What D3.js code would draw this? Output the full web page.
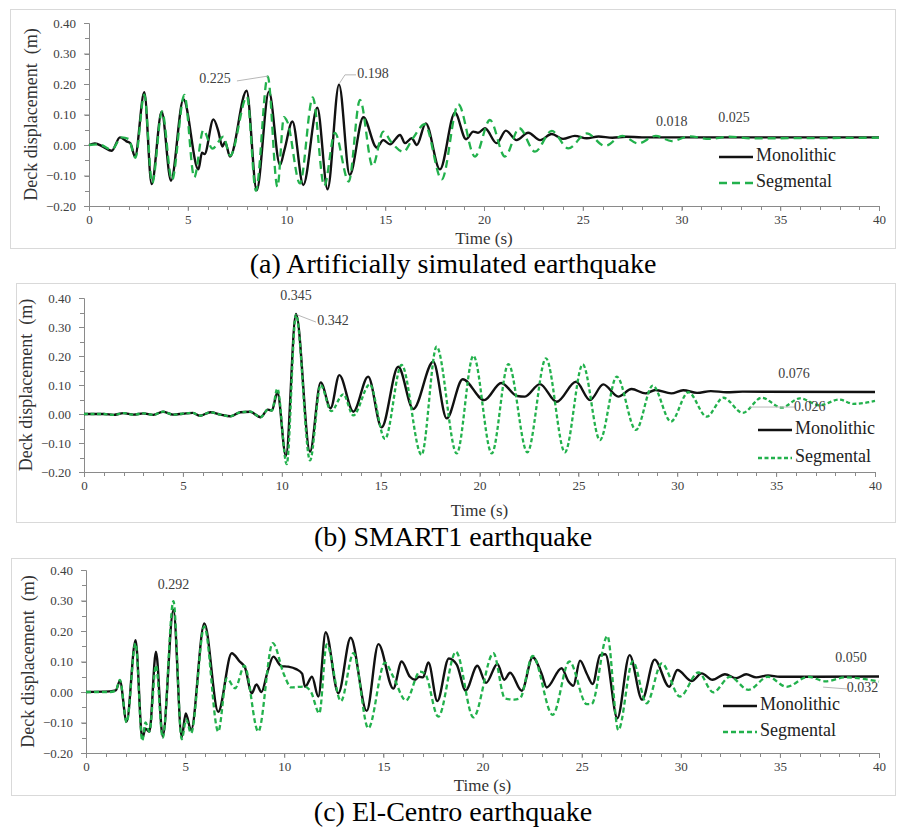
<!DOCTYPE html>
<html><head><meta charset="utf-8">
<script src="https://cdn.jsdelivr.net/npm/d3@7"></script>
<style>body{margin:0;background:#fff}svg{display:block}text{font-family:"Liberation Serif","Times New Roman",Times,serif}</style>
</head><body>
<svg id="chart" width="897" height="828"></svg>
<script>
// ---------- data ----------
const xTicks = [0, 5, 10, 15, 20, 25, 30, 35, 40];
const yTicks = [-0.2, -0.1, 0, 0.1, 0.2, 0.3, 0.4];
const seriesNames = ["Monolithic", "Segmental"];
const captions = ["(a) Artificially simulated earthquake", "(b) SMART1 earthquake", "(c) El-Centro earthquake"];
const yTitle = "Deck displacement  (m)";
const xTitle = "Time (s)";

// (a) Artificially simulated earthquake  [time s, displacement m]
const aMono = [[0,0],[0.3,0.005],[0.7,-0.005],[1.15,-0.019],[1.57,0.025],[1.9,0.012],[2.1,0.005],[2.33,-0.038],[2.8,0.173],[3.17,-0.128],[3.68,0.109],[4.15,-0.117],[4.78,0.15],[5.54,-0.08],[5.72,-0.025],[5.85,-0.03],[6.3,0.084],[6.55,0.045],[6.75,-0.005],[6.89,0.01],[7.14,-0.038],[7.98,0.178],[8.49,-0.148],[9.11,0.175],[9.67,-0.066],[9.9,-0.015],[10.3,0.077],[10.85,-0.131],[11.56,0.122],[12.08,-0.145],[12.66,0.198],[13.2,-0.098],[13.89,0.091],[14.57,-0.008],[14.9,0.016],[15.24,0.002],[15.75,0.033],[16.0,0.006],[16.34,0.022],[16.6,0.0],[17.05,0.071],[17.77,-0.08],[18.53,0.106],[19.09,0.019],[19.46,0.044],[19.7,0.04],[20.05,0.055],[20.64,0.006],[21.11,0.047],[21.65,0.016],[22.24,0.04],[22.84,0.016],[23.43,0.036],[24.0,0.02],[24.6,0.03],[25.2,0.022],[25.8,0.028],[26.5,0.024],[27.2,0.027],[28,0.025],[40,0.025]];
const aSeg = [[0,0],[0.5,0.002],[1.15,-0.015],[1.65,0.025],[2.0,0.02],[2.35,-0.042],[2.8,0.165],[3.2,-0.125],[3.7,0.11],[4.2,-0.115],[4.83,0.164],[5.33,-0.106],[5.79,0.049],[6.25,-0.012],[6.8,0.027],[7.15,-0.035],[8.0,0.158],[8.45,-0.15],[9.05,0.225],[9.54,-0.137],[9.87,0.091],[10.05,0.075],[10.68,-0.126],[11.33,0.156],[11.91,-0.134],[12.45,0.04],[13.15,-0.12],[13.72,0.148],[14.36,-0.069],[14.9,0.044],[15.3,0.01],[15.92,-0.022],[16.4,0.022],[17.0,0.068],[17.86,-0.113],[18.7,0.133],[19.54,-0.038],[20.3,0.082],[21.06,-0.038],[21.79,0.055],[22.58,-0.022],[23.43,0.046],[24.27,-0.011],[25.2,0.038],[26.13,-0.003],[27.0,0.03],[27.8,0.005],[28.7,0.03],[29.5,0.013],[30.4,0.028],[31.4,0.02],[32.4,0.027],[33.5,0.022],[40,0.024]];

// (b) SMART1 earthquake
const bMono = [[0,0],[1,0],[1.5,-0.003],[2,0.003],[2.5,-0.002],[3,0.002],[3.5,-0.003],[4,0.008],[4.5,-0.002],[5,0.001],[5.5,0.004],[5.85,-0.006],[6.4,0.006],[6.9,-0.002],[7.4,-0.008],[7.9,0.006],[8.4,0.008],[8.93,-0.011],[9.3,0.015],[9.5,0.012],[9.78,0.074],[10.21,-0.144],[10.72,0.345],[11.43,-0.13],[11.97,0.109],[12.47,0.02],[12.91,0.134],[13.62,0.008],[14.37,0.129],[15.05,-0.046],[15.89,0.163],[16.65,0.017],[17.66,0.18],[18.34,-0.015],[19.15,0.12],[20.24,0.048],[21.1,0.107],[21.9,0.062],[22.3,0.06],[23.05,0.103],[23.9,0.042],[24.88,0.111],[25.59,0.048],[26.26,0.102],[27.02,0.06],[27.69,0.086],[28.4,0.071],[28.9,0.083],[29.7,0.071],[30.3,0.082],[31.0,0.073],[31.7,0.079],[32.5,0.075],[33.3,0.077],[40,0.076]];
const bSeg = [[0,0],[1,0],[1.5,-0.003],[2,0.003],[2.5,-0.002],[3,0.002],[3.5,-0.003],[4,0.008],[4.5,-0.002],[5,0.001],[5.5,0.004],[5.85,-0.006],[6.4,0.006],[6.9,-0.002],[7.4,-0.008],[7.9,0.006],[8.4,0.008],[8.93,-0.011],[9.3,0.015],[9.5,0.012],[9.78,0.087],[10.25,-0.173],[10.72,0.342],[11.43,-0.16],[11.97,0.1],[12.5,0.01],[13.11,0.068],[13.62,-0.005],[14.45,0.102],[15.22,-0.086],[16.06,0.169],[17.07,-0.141],[17.83,0.232],[18.85,-0.136],[19.69,0.201],[20.62,-0.136],[21.46,0.172],[22.42,-0.132],[23.36,0.192],[24.32,-0.132],[25.22,0.171],[26.09,-0.09],[26.94,0.129],[27.91,-0.055],[28.76,0.098],[29.68,-0.026],[30.56,0.075],[31.49,-0.009],[32.33,0.056],[33.31,0.004],[34.27,0.056],[35.28,0.022],[36.2,0.054],[37.2,0.03],[38.2,0.05],[38.9,0.035],[40,0.045]];

// (c) El-Centro earthquake
const cMono = [[0,0],[1.2,0.002],[1.5,0.005],[1.71,0.036],[2.05,-0.097],[2.5,0.17],[2.84,-0.152],[3.0,-0.12],[3.2,-0.13],[3.53,0.132],[3.87,-0.146],[4.41,0.269],[4.83,-0.148],[5.03,-0.07],[5.3,-0.125],[5.97,0.225],[6.67,-0.065],[7.35,0.127],[7.75,0.1],[8.02,0.08],[8.36,-0.004],[8.6,0.025],[8.85,0.0],[9.16,0.067],[9.45,0.116],[9.85,0.085],[10.2,0.083],[10.6,0.075],[10.9,0.06],[11.05,0.017],[11.4,0.05],[11.72,-0.015],[12.09,0.196],[12.73,-0.004],[13.35,0.178],[14.16,-0.062],[14.75,0.157],[15.5,0.011],[15.92,0.1],[16.34,0.05],[16.6,0.04],[16.8,0.05],[17.0,0.048],[17.27,0.097],[17.72,-0.03],[18.3,0.11],[18.7,0.09],[19.15,0.005],[19.74,0.086],[20.18,0.03],[20.75,0.092],[21.1,0.04],[21.39,0.063],[21.98,0.004],[22.53,0.114],[22.98,0.06],[23.24,0.015],[23.99,0.078],[24.33,0.035],[24.58,0.02],[24.92,0.103],[25.26,0.06],[25.56,0.026],[25.93,0.121],[26.2,0.124],[26.8,-0.086],[27.42,0.121],[28.05,-0.025],[28.68,0.106],[29.42,0.017],[29.83,0.072],[30.55,0.036],[31.06,0.061],[31.6,0.04],[32.23,0.058],[32.8,0.045],[33.3,0.058],[33.8,0.048],[34.4,0.054],[35,0.05],[40,0.051]];
const cSeg = [[0,0],[1.2,0],[1.5,0.004],[1.71,0.04],[2.05,-0.1],[2.5,0.16],[2.84,-0.16],[3.0,-0.1],[3.2,-0.13],[3.53,0.088],[3.87,-0.15],[4.41,0.298],[4.83,-0.155],[5.05,-0.09],[5.3,-0.135],[5.97,0.215],[6.67,-0.13],[7.1,0.045],[7.52,0.012],[7.99,0.086],[8.69,-0.13],[9.42,0.16],[10.0,0.055],[10.35,0.015],[11.0,0.018],[11.35,0.0],[11.77,-0.07],[12.14,0.156],[12.86,-0.03],[13.49,0.127],[14.24,-0.119],[15.08,0.096],[15.5,0.05],[16.14,-0.028],[16.85,0.067],[17.1,0.06],[17.77,-0.081],[18.66,0.132],[19.54,-0.083],[20.55,0.127],[21.13,-0.021],[21.6,-0.025],[21.9,-0.02],[22.53,0.118],[23.54,-0.075],[24.38,0.1],[25.26,-0.04],[25.5,-0.04],[26.3,0.184],[26.85,-0.125],[27.58,0.1],[28.28,-0.037],[29.04,0.094],[29.96,-0.015],[30.89,0.064],[31.64,-0.001],[32.48,0.05],[33.41,0.007],[34.4,0.05],[35.34,0.017],[36.43,0.05],[37.3,0.035],[38.3,0.048],[40,0.034]];

// annotations: label text and anchor in data units [t, v]
const aNotes = [{text:"0.225",t:6.38,v:0.213},{text:"0.198",t:14.38,v:0.23},{text:"0.018",t:29.5,v:0.072},{text:"0.025",t:32.66,v:0.085}];
const bNotes = [{text:"0.345",t:10.72,v:0.403},{text:"0.342",t:12.59,v:0.317},{text:"0.076",t:35.9,v:0.134},{text:"0.026",t:36.7,v:0.021}];
const cNotes = [{text:"0.292",t:4.41,v:0.348},{text:"0.050",t:38.59,v:0.108},{text:"0.032",t:39.17,v:0.01}];
const aLeaders = [[[7.49,0.21],[9.06,0.226]],[[12.66,0.2],[12.96,0.23],[13.52,0.23]]];
const bLeaders = [[[10.82,0.341],[11.73,0.317]],[[33.68,0.024],[35.95,0.024]]];
const cLeaders = [[[37.18,0.016],[38.39,0.01]]];

// ---------- layout ----------
const panels = [
  {mono:aMono, seg:aSeg, notes:aNotes, leaders:aLeaders, frame:[10,9,885,239], x0:89, x1:879, yT:23, yB:206, tOff:34, cap:267, leg:[719,157,183], dash:"8,5"},
  {mono:bMono, seg:bSeg, notes:bNotes, leaders:bLeaders, frame:[16,283,879,239], x0:84, x1:875, yT:298, yB:472, tOff:40, cap:540, leg:[758,430,458], dash:"4,2.5"},
  {mono:cMono, seg:cSeg, notes:cNotes, leaders:cLeaders, frame:[11,558,884,237], x0:86, x1:879, yT:570, yB:753, tOff:34, cap:815, leg:[723,706,732], dash:"5,3"}
];
const GREEN = "#22b14c", AX = "#8a8a8a", TXT = "#404040";
const FONT = '"Liberation Serif","Times New Roman",Times,serif';
const svg = d3.select("#chart");

panels.forEach((p, i) => {
  const g = svg.append("g");
  g.append("rect").attr("x",p.frame[0]+0.5).attr("y",p.frame[1]+0.5).attr("width",p.frame[2]).attr("height",p.frame[3])
    .attr("fill","none").attr("stroke","#d9d9d9").attr("stroke-width",1);
  const x = d3.scaleLinear().domain([0,40]).range([p.x0,p.x1]);
  const y = d3.scaleLinear().domain([-0.2,0.4]).range([p.yB,p.yT]);

  // minor ticks
  const ax = g.append("g").attr("stroke",AX).attr("stroke-width",1);
  d3.range(0,41,1).forEach(t => ax.append("line").attr("x1",Math.round(x(t))+0.5).attr("x2",Math.round(x(t))+0.5).attr("y1",p.yB).attr("y2",p.yB+4));
  d3.range(-0.2,0.401,0.05).forEach(v => ax.append("line").attr("y1",Math.round(y(v))+0.5).attr("y2",Math.round(y(v))+0.5).attr("x1",p.x0-4).attr("x2",p.x0));
  // axes
  const xa = g.append("g").attr("transform",`translate(0,${p.yB})`).call(d3.axisBottom(x).tickValues(xTicks).tickSize(5).tickPadding(4).tickFormat(d3.format("d")));
  const ya = g.append("g").attr("transform",`translate(${p.x0},0)`).call(d3.axisLeft(y).tickValues(yTicks).tickSize(5).tickPadding(8).tickFormat(d3.format(".2f")));
  [xa,ya].forEach(a => {
    a.attr("font-family",FONT);
    a.select(".domain").attr("stroke",AX);
    a.selectAll(".tick line").attr("stroke",AX);
    a.selectAll("text").attr("fill",TXT).style("font-size","13px");
  });

  // titles
  g.append("text").attr("transform",`translate(${p.x0-56},${(p.yT+p.yB)/2}) rotate(-90)`).attr("text-anchor","middle")
    .attr("dominant-baseline","middle").attr("fill","#333").style("font-size","18px").style("white-space","pre").text(yTitle);
  g.append("text").attr("x",x(20)).attr("y",p.yB+p.tOff).attr("text-anchor","middle").attr("dominant-baseline","middle")
    .attr("fill","#333").style("font-size","17px").text(xTitle);
  g.append("text").attr("x",453).attr("y",p.cap).attr("text-anchor","middle").attr("dominant-baseline","middle")
    .attr("fill","#000").style("font-size","28px").text(captions[i]);

  // lines
  const line = d3.line().x(d=>x(d[0])).y(d=>y(d[1])).curve(d3.curveMonotoneX);
  g.append("path").datum(p.mono).attr("d",line).attr("fill","none").attr("stroke","#111").attr("stroke-width",2.4).attr("stroke-linejoin","round");
  g.append("path").datum(p.seg).attr("d",line).attr("fill","none").attr("stroke",GREEN).attr("stroke-width",2.3).attr("stroke-dasharray",p.dash);

  // leaders & notes
  const lf = d3.line().x(d=>x(d[0])).y(d=>y(d[1]));
  p.leaders.forEach(L => g.append("path").attr("d",lf(L)).attr("fill","none").attr("stroke","#b8b8b8").attr("stroke-width",1));
  p.notes.forEach(n => g.append("text").attr("x",x(n.t)).attr("y",y(n.v)).attr("text-anchor","middle").attr("dominant-baseline","middle")
    .attr("fill",TXT).style("font-size","14px").text(n.text));

  // legend
  const [lx, ly1, ly2] = p.leg;
  g.append("line").attr("x1",lx).attr("x2",lx+34).attr("y1",ly1).attr("y2",ly1).attr("stroke","#111").attr("stroke-width",2.4);
  g.append("line").attr("x1",lx).attr("x2",lx+34).attr("y1",ly2).attr("y2",ly2).attr("stroke",GREEN).attr("stroke-width",2.3).attr("stroke-dasharray",p.dash);
  g.append("text").attr("x",lx+37).attr("y",ly1).attr("dominant-baseline","middle").attr("fill","#222").style("font-size","18px").text(seriesNames[0]);
  g.append("text").attr("x",lx+37).attr("y",ly2).attr("dominant-baseline","middle").attr("fill","#222").style("font-size","18px").text(seriesNames[1]);
});
</script>
</body></html>
